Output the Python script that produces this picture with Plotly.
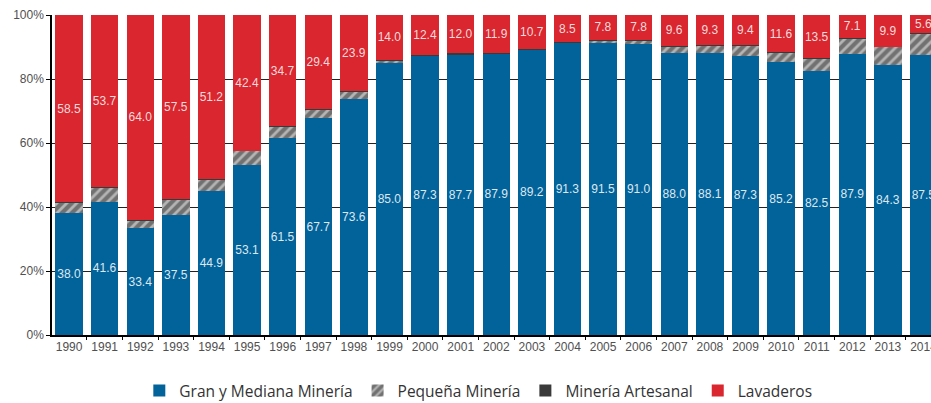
import plotly.graph_objects as go

years = [str(y) for y in range(1990, 2015)]
gran = [38.0, 41.6, 33.4, 37.5, 44.9, 53.1, 61.5, 67.7, 73.6, 85.0, 87.3, 87.7, 87.9,
        89.2, 91.3, 91.5, 91.0, 88.0, 88.1, 87.3, 85.2, 82.5, 87.9, 84.3, 87.5]
pequena = [3.4, 4.6, 2.5, 4.9, 3.8, 4.4, 3.7, 2.8, 2.4, 0.9, 0.1, 0.1, 0.1,
           0.0, 0.1, 0.6, 1.1, 2.3, 2.5, 3.2, 3.1, 3.9, 4.9, 5.7, 6.8]
artesanal = [0.1, 0.1, 0.1, 0.1, 0.1, 0.1, 0.1, 0.1, 0.1, 0.1, 0.2, 0.2, 0.1,
             0.1, 0.1, 0.1, 0.1, 0.1, 0.1, 0.1, 0.1, 0.1, 0.1, 0.1, 0.1]
lavaderos = [58.5, 53.7, 64.0, 57.5, 51.2, 42.4, 34.7, 29.4, 23.9, 14.0, 12.4, 12.0, 11.9,
             10.7, 8.5, 7.8, 7.8, 9.6, 9.3, 9.4, 11.6, 13.5, 7.1, 9.9, 5.6]

BLUE = "#02629a"
RED = "#d9262f"
DARK = "#3a3a3a"
lab_font = dict(family="Liberation Sans, Arial, sans-serif", size=12)

fig = go.Figure()
fig.add_trace(go.Bar(
    x=years, y=gran, name="Gran y Mediana Minería",
    marker=dict(color=BLUE, line=dict(width=0)),
    text=[f"{v:.1f}" for v in gran], textposition="inside",
    insidetextanchor="middle", textangle=0, constraintext="none",
    textfont=dict(color="#dde8f1", **lab_font),
))
fig.add_trace(go.Bar(
    x=years, y=pequena, name="Pequeña Minería",
    marker=dict(color="#b4b4b4", line=dict(width=0),
                pattern=dict(shape="/", bgcolor="#b4b4b4", fgcolor="#2e2e2e",
                             size=7, solidity=0.6, fillmode="overlay")),
    textposition="none",
))
fig.add_trace(go.Bar(
    x=years, y=artesanal, name="Minería Artesanal",
    marker=dict(color=DARK, line=dict(width=0)),
    textposition="none",
))
fig.add_trace(go.Bar(
    x=years, y=lavaderos, name="Lavaderos",
    marker=dict(color=RED, line=dict(width=0)),
    text=[f"{v:.1f}" for v in lavaderos], textposition="inside",
    insidetextanchor="middle", textangle=0, constraintext="none",
    textfont=dict(color="#f6dadc", **lab_font),
))

fig.update_layout(
    barmode="stack",
    bargap=0.23,
    width=931, height=403,
    margin=dict(l=52, r=0, t=15, b=68),
    plot_bgcolor="white", paper_bgcolor="white",
    showlegend=True,
    legend=dict(orientation="h", x=0.485, xanchor="center",
                yref="container", y=0.03, yanchor="middle",
                font=dict(family="Open Sans, sans-serif", size=15.5, color="#333333"),
                itemwidth=30, traceorder="normal", itemsizing="constant"),
    xaxis=dict(type="category", range=[-0.48, 24.21], automargin=False, tickangle=0,
               showline=True, linecolor="black", linewidth=1.5,
               ticks="outside", tickson="boundaries", ticklen=3, tickcolor="black",
               tickfont=dict(family="Liberation Sans, Arial, sans-serif", size=12, color="#505050"),
               showgrid=False),
    yaxis=dict(range=[0, 100], tickvals=[0, 20, 40, 60, 80, 100], automargin=False,
               ticktext=["0%", "20%", "40%", "60%", "80%", "100%"],
               showline=True, linecolor="black", linewidth=1.5,
               ticks="outside", ticklen=4, tickcolor="black",
               tickfont=dict(family="Liberation Sans, Arial, sans-serif", size=12, color="#505050"),
               showgrid=True, gridcolor="#222222", gridwidth=1, zeroline=False),
)

fig.write_html("out.html", config={"displayModeBar": False},
               post_script="document.body.style.margin='0';document.body.style.overflow='hidden';")
